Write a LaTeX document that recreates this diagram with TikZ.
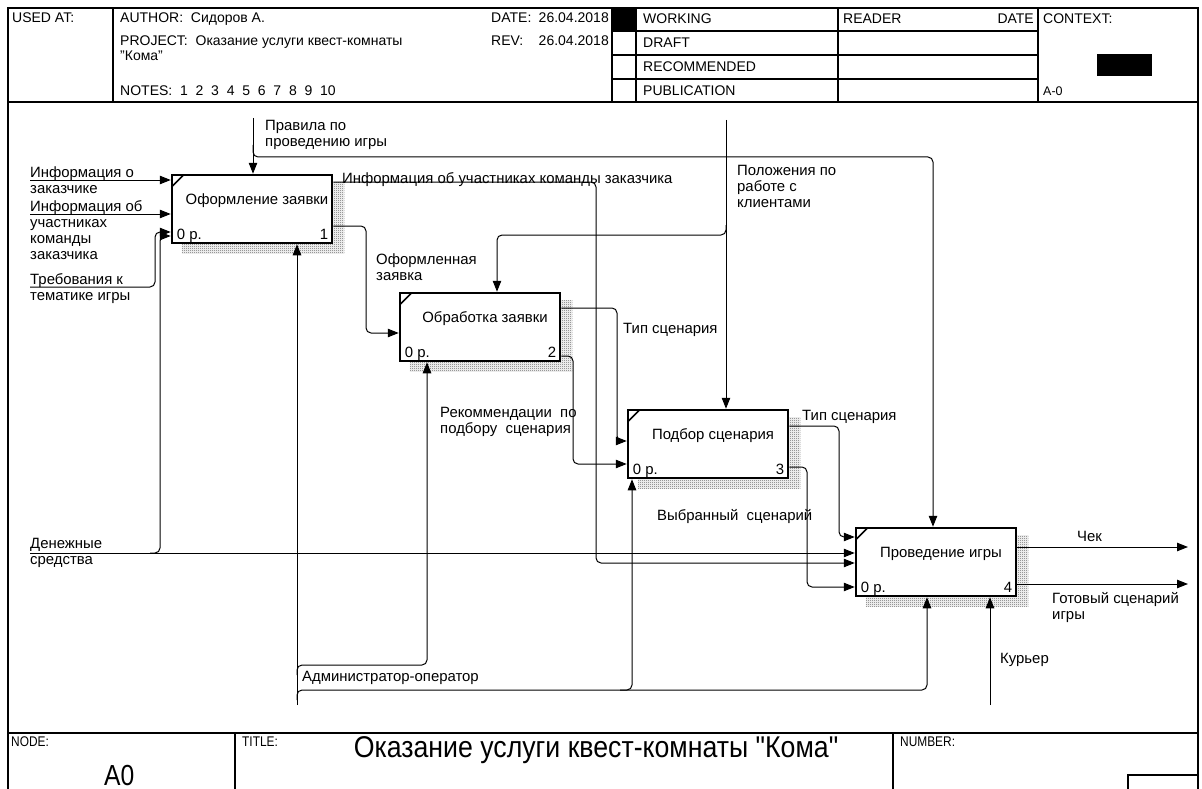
\documentclass[tikz,border=0pt]{standalone}
\usepackage{fontspec}
\setmainfont{Liberation Sans}
\newfontfamily\narrowfont[FakeStretch=0.85]{Liberation Sans}
\newfontfamily\titlefont[FakeStretch=0.89]{Liberation Sans}
\usetikzlibrary{arrows.meta,patterns,backgrounds}

% fine checkerboard used for the drop shadows of the activity boxes
\pgfdeclarepatternformonly{checker}{\pgfpointorigin}{\pgfpoint{2pt}{2pt}}{\pgfpoint{2pt}{2pt}}{%
  \pgfpathrectangle{\pgfpointorigin}{\pgfpoint{1pt}{1pt}}%
  \pgfpathrectangle{\pgfpoint{1pt}{1pt}}{\pgfpoint{1pt}{1pt}}%
  \pgfusepath{fill}}

\tikzset{
  lbl/.style={font=\fontsize{14.9}{16}\selectfont, anchor=north west, align=left, inner sep=0pt},
  hdr/.style={font=\fontsize{14}{15}\selectfont, anchor=base west, inner sep=0pt},
  ftr/.style={font=\narrowfont\fontsize{14}{15}\selectfont, anchor=base west, inner sep=0pt},
  actbox/.style={draw, line width=2.5pt, fill=white, minimum width=160pt, minimum height=68pt, inner sep=0pt},
  link/.style={line width=1pt, rounded corners=5pt},
  arr/.style={link, -{Triangle[length=11pt,width=8.5pt]}},
  shade/.style={pattern=checker, pattern color=gray!75!black},
  frameline/.style={line width=1.5pt},
  boxname/.style={font=\fontsize{14.9}{16}\selectfont, anchor=base, inner sep=0pt},
  boxcost/.style={font=\fontsize{14.9}{16}\selectfont, anchor=base west, inner sep=0pt},
  boxnum/.style={font=\fontsize{14.9}{16}\selectfont, anchor=base east, inner sep=0pt},
  tick/.style={line width=1.6pt},
}

\begin{document}
\begin{tikzpicture}[x=1pt,y=-1pt]
\useasboundingbox (0,0) rectangle (1202,789);

% ---------- outer frame and header grid ----------
\draw[frameline] (8,800) -- (8,8) -- (1198,8) -- (1198,800);
\draw[line width=2pt] (8,102) -- (1198,102);
\foreach \xx in {113,612,636,838,1038} \draw[frameline] (\xx,8) -- (\xx,102);
\foreach \yy in {31,55,79} \draw[frameline] (612,\yy) -- (1038,\yy);
\node[fill=black, minimum width=24pt, minimum height=23pt, inner sep=0pt] (stateMark) at (624,19.5) {};
\node[fill=black, minimum width=55pt, minimum height=22pt, inner sep=0pt] (ctxMark) at (1124.5,65) {};

\node[hdr] (hUsed) at (12,23) {USED AT:};
\node[hdr] (hAuthor) at (120,23) {AUTHOR:\ \ Сидоров А.};
\node[hdr] (hProject) at (120,46) {PROJECT:\ \ Оказание услуги квест-комнаты};
\node[hdr] (hProject2) at (120,61) {"Кома"};
\node[hdr] (hNotes) at (120,96) {NOTES:\ \ 1\ \ 2\ \ 3\ \ 4\ \ 5\ \ 6\ \ 7\ \ 8\ \ 9\ \ 10};
\node[hdr] (hDate) at (491,23) {DATE:};
\node[hdr, anchor=base east] (hDateV) at (609,23) {26.04.2018};
\node[hdr] (hRev) at (491,46) {REV:};
\node[hdr, anchor=base east] (hRevV) at (609,46) {26.04.2018};
\node[hdr] (hWorking) at (643,24) {WORKING};
\node[hdr] (hDraft) at (643,48) {DRAFT};
\node[hdr] (hRecommended) at (643,72) {RECOMMENDED};
\node[hdr] (hPublication) at (643,96) {PUBLICATION};
\node[hdr] (hReader) at (843,24) {READER};
\node[hdr, anchor=base east] (hReaderDate) at (1034,24) {DATE};
\node[hdr] (hContext) at (1043,24) {CONTEXT:};
\node[hdr, font=\fontsize{12.5}{14}\selectfont] (hContextNo) at (1043,96) {A-0};

% ---------- footer ----------
\draw[line width=2pt] (8,733) -- (1198,733);
\draw[frameline] (235,733) -- (235,800);
\draw[frameline] (893,733) -- (893,800);
\draw[frameline] (1128,800) -- (1128,775) -- (1198,775);
\node[ftr] (fNode) at (11,746) {NODE:};
\node[ftr] (fTitleKey) at (242,746) {TITLE:};
\node[ftr] (fNumber) at (900,746) {NUMBER:};
\node[font=\narrowfont\fontsize{29}{32}\selectfont, anchor=base west, inner sep=0pt] (fNodeNo) at (104,785) {A0};
\node[font=\titlefont\fontsize{30}{34}\selectfont, anchor=base, inner sep=0pt] (fTitle) at (596,757) {Оказание услуги квест-комнаты "Кома"};

% ---------- activity boxes ----------
\node[actbox] (b1) at (252,209) {};
\node[actbox] (b2) at (480,327) {};
\node[actbox] (b3) at (708,444) {};
\node[actbox] (b4) at (936,562) {};

\begin{scope}[on background layer]
  \foreach \b in {b1,b2,b3,b4}
    \fill[shade] ([shift={(11,9)}]\b.north west) rectangle ([shift={(11,9)}]\b.south east);
\end{scope}

\foreach \b/\t/\n in {b1/Оформление заявки/1, b2/Обработка заявки/2, b3/Подбор сценария/3, b4/Проведение игры/4} {
  \draw[tick] ([shift={(1,13)}]\b.north west) -- ([shift={(13,1)}]\b.north west);
  \node[boxname] (\b-name) at ([shift={(5,31)}]\b.north) {\t};
  \node[boxcost] (\b-cost) at ([shift={(6,-5)}]\b.south west) {0 р.};
  \node[boxnum] (\b-num) at ([shift={(-5,-5)}]\b.south east) {\n};
}

% ---------- free ends of boundary arrows ----------
\coordinate (srcCustomer) at (30,180);
\coordinate (srcTeam) at (30,214);
\coordinate (srcTheme) at (30,287);
\coordinate (srcMoney) at (30,553);
\coordinate (srcRules) at (253,118);
\coordinate (srcRegs) at (726,120);
\coordinate (srcAdmin) at (297,705);
\coordinate (srcCourier) at (990,705);
\coordinate (dstCheck) at (1188,547);
\coordinate (dstScript) at (1188,584);

% ---------- inputs ----------
\draw[arr] (srcCustomer) -- (b1.west |- srcCustomer);
\draw[arr] (srcTeam) -- (b1.west |- srcTeam);
\draw[arr] (srcTheme) -- (155,287) -- (155,232) -- (b1.west |- 0,232);
\draw[arr] (srcMoney) -- (b4.west |- srcMoney);
\draw[arr] (150,553) -- (160,553) -- (160,236) -- (b1.west |- 0,236);

% ---------- controls ----------
\draw[arr] (srcRules) -- (srcRules |- b1.north);
\draw[arr] (253,145) -- (253,157) -- (933,157) -- (b4.north -| 933,0);
\draw[arr] (srcRegs) -- (srcRegs |- b3.north);
\draw[arr] (726,225) -- (726,235) -- (497,235) -- (b2.north -| 497,0);

% ---------- internal flows ----------
\draw[arr] (b1.east |- 0,226) -- (366,226) -- (366,333) -- (b2.west |- 0,333);
\draw[arr] (b1.east |- 0,182) -- (596,182) -- (596,563) -- (b4.west |- 0,563);
\draw[arr] (b2.east |- 0,308) -- (617,308) -- (617,441) -- (b3.west |- 0,441);
\draw[arr] (b2.east |- 0,356) -- (573,356) -- (573,464) -- (b3.west |- 0,464);
\draw[arr] (b3.east |- 0,426) -- (839,426) -- (839,537) -- (b4.west |- 0,537);
\draw[arr] (b3.east |- 0,467) -- (807,467) -- (807,587) -- (b4.west |- 0,587);

% ---------- outputs ----------
\draw[arr] (b4.east |- dstCheck) -- (dstCheck);
\draw[arr] (b4.east |- dstScript) -- (dstScript);

% ---------- mechanisms ----------
\draw[arr] (srcAdmin) -- (srcAdmin |- b1.south);
\draw[arr] (297,675) -- (297,665) -- (427,665) -- (b2.south -| 427,0);
\draw[arr] (297,700) -- (297,690) -- (632,690) -- (b3.south -| 632,0);
\draw[arr] (620,690) -- (927,690) -- (b4.south -| 927,0);
\draw[arr] (srcCourier) -- (srcCourier |- b4.south);

% ---------- arrow labels ----------
\node[lbl] (lCustomer) at (30,167) {Информация о\\заказчике};
\node[lbl] (lTeam) at (30,200) {Информация об\\участниках\\команды\\заказчика};
\node[lbl] (lTheme) at (30,273) {Требования к\\тематике игры};
\node[lbl] (lMoney) at (30,538) {Денежные\\средства};
\node[lbl] (lRules) at (265,120) {Правила по\\проведению игры};
\node[lbl] (lTeamOut) at (342,172) {Информация об участниках команды заказчика};
\node[lbl] (lRegs) at (737,165) {Положения по\\работе с\\клиентами};
\node[lbl] (lFormed) at (376,254) {Оформленная\\заявка};
\node[lbl] (lType1) at (623,323) {Тип сценария};
\node[lbl] (lAdvice) at (440,407) {Рекоммендации\ \ по\\подбору\ \ сценария};
\node[lbl] (lType2) at (802,410) {Тип сценария};
\node[lbl] (lChosen) at (657,509) {Выбранный\ \ сценарий};
\node[lbl] (lCheck) at (1077,531) {Чек};
\node[lbl] (lScript) at (1052,592) {Готовый сценарий\\игры};
\node[lbl] (lCourier) at (1000,653) {Курьер};
\node[lbl] (lAdmin) at (302,671) {Администратор-оператор};
\end{tikzpicture}
\end{document}
